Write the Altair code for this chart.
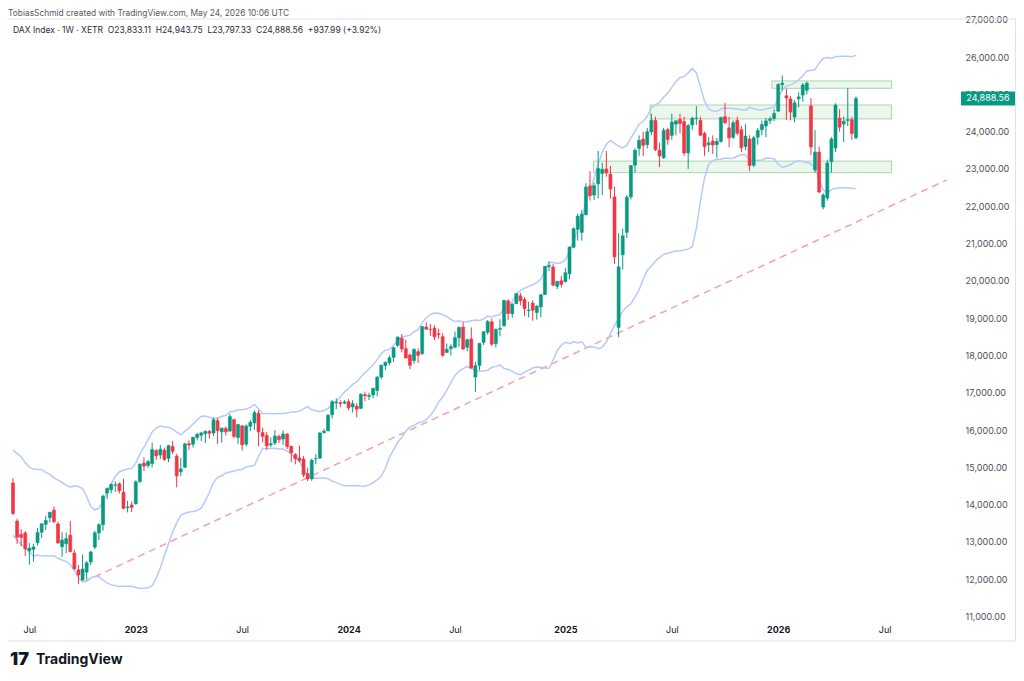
import altair as alt
import pandas as pd
import numpy as np

FONT = "Inter"

# ---- weekly DAX candles (week of Monday), Jun 2022 .. May 2026 ----
opens = [
    # 2022
    14580, 13560, 13200, 13240, 12760, 12800, 12980, 13260, 13470, 13650, 13850, 13480, 12870, 12950, 13180,
    12700, 12250, 11980, 12190, 12460, 12860, 13240, 13460, 14310, 14400, 14520, 14560, 14330, 13920, 13990,
    # 2023
    14020, 14620, 15110, 15050, 15100, 15450, 15330, 15460, 15240, 15560, 15300, 14880, 15000, 15630, 15620,
    15800, 15860, 15900, 15960, 15920, 16250, 15950, 16040, 15970, 16280, 15800, 16110, 15620, 16100, 16190,
    16450, 15930, 15850, 15600, 15650, 15830, 15760, 15890, 15560, 15340, 15250, 15220, 14830, 14690, 15230,
    15250, 15930, 15980, 16410, 16730, 16730, 16720,
    # 2024
    16760, 16620, 16640, 16580, 16950, 16900, 16940, 17060, 17420, 17730, 17800, 17950, 18270, 18460, 18180,
    18010, 17860, 18100, 18050, 18760, 18700, 18730, 18580, 18500, 18080, 18180, 18220, 18470, 18760, 18220,
    18440, 17420, 17730, 18350, 18620, 18900, 18320, 18700, 18800, 19460, 19120, 19390, 19600, 19500, 19200,
    19400, 19150, 19300, 19630, 20380, 20370, 19850, 20000,
    # 2025
    19980, 20190, 20900, 21380, 21300, 21770, 22540, 22300, 22600, 22880, 23000, 22860, 22250, 18750, 20700,
    21300, 22250, 23100, 23550, 23800, 23650, 23990, 24300, 23500, 23300, 24050, 23900, 24200, 24330, 24270,
    23430, 24180, 24350, 24300, 23950, 23650, 23750, 23650, 23740, 24400, 24100, 23850, 24300, 24050, 23600,
    23800, 23100, 23850, 24050, 24150, 24300, 24350,
    # 2026
    24550, 25260, 24960, 24874, 24390, 24880, 24980, 25110, 24690, 22970, 23450, 21980, 22220, 23190, 23560,
    24360, 24200, 24300, 24320, 23833.11,
]
highs = [
    14710, 13620, 13340, 13290, 12970, 12950, 13370, 13500, 13700, 13800, 13950, 13540, 13260, 13250, 13560,
    12790, 12380, 12660, 12490, 12760, 13300, 13500, 14270, 14460, 14560, 14620, 14590, 14690, 14100, 14080,
    14650, 15100, 15270, 15200, 15660, 15480, 15600, 15530, 15600, 15710, 15360, 15250, 15660, 15720, 15810,
    15920, 15950, 15990, 16000, 16330, 16330, 16060, 16100, 16430, 16300, 16150, 16130, 16150, 16270, 16530,
    16530, 16060, 15950, 15800, 16000, 15880, 15990, 15920, 15580, 15380, 15580, 15300, 14990, 15230, 15350,
    15950, 16030, 16420, 16800, 16850, 16790, 16800,
    16830, 16800, 16720, 16980, 17030, 17000, 17130, 17440, 17750, 17840, 18000, 18230, 18510, 18570, 18420,
    18050, 18190, 18190, 18790, 18890, 18840, 18810, 18720, 18590, 18320, 18300, 18640, 18780, 18890, 18450,
    18750, 17830, 18330, 18650, 18950, 18990, 18720, 18970, 19490, 19510, 19400, 19670, 19680, 19560, 19440,
    19470, 19340, 19640, 20400, 20520, 20450, 20000, 20130,
    20350, 20920, 21430, 21800, 21900, 22620, 22940, 22630, 23480, 23160, 23480, 23080, 22520, 21280, 21400,
    22300, 23100, 23550, 23900, 24000, 24100, 24480, 24400, 23700, 24100, 24100, 24480, 24300, 24480, 24400,
    24200, 24400, 24680, 24400, 24000, 23850, 23900, 23830, 24400, 24770, 24400, 24300, 24400, 24150, 24200,
    23900, 23880, 24100, 24300, 24370, 24400, 24600,
    25300, 25510, 25150, 24950, 24850, 25050, 25300, 25340, 24900, 24040, 23600, 22350, 23250, 23850, 24760,
    24600, 24400, 25170, 24400, 24943.75,
]
lows = [
    13720, 12945, 12880, 12620, 12390, 12470, 12900, 13110, 13320, 13520, 13500, 12950, 12600, 12700, 12720,
    12250, 11870, 11950, 11990, 12380, 12810, 13050, 13300, 14150, 14300, 14340, 14300, 13880, 13790, 13800,
    14000, 14580, 14900, 14990, 15000, 15200, 15220, 15170, 15140, 15350, 14460, 14760, 14990, 15470, 15530,
    15720, 15700, 15650, 15770, 15840, 15630, 15660, 15850, 15960, 15780, 15620, 15450, 15560, 15970, 16000,
    15560, 15670, 15470, 15540, 15600, 15650, 15600, 15490, 15140, 15080, 15130, 14740, 14630, 14640, 15080,
    15220, 15900, 15960, 16310, 16560, 16610, 16690,
    16530, 16470, 16340, 16560, 16770, 16800, 16850, 16900, 17370, 17600, 17740, 17820, 18220, 18080, 17920,
    17630, 17780, 17800, 18010, 18680, 18520, 18410, 18450, 17960, 18070, 18000, 18190, 18230, 18150, 18110,
    17650, 17020, 17600, 18280, 18560, 18250, 18210, 18510, 18760, 18950, 19010, 19370, 19340, 19060, 19020,
    18930, 18960, 19020, 19620, 20260, 19860, 19780, 19820,
    19950, 20040, 20870, 21080, 21080, 21760, 22150, 22170, 22210, 22300, 22790, 22200, 20450, 18490, 20300,
    21150, 22180, 22900, 23350, 23340, 23550, 23900, 23480, 23050, 23270, 23650, 23780, 23900, 23950, 23350,
    23000, 24050, 24180, 23890, 23350, 23450, 23400, 23300, 23700, 24200, 23580, 23800, 23900, 23450, 23500,
    22940, 23050, 23650, 23900, 23850, 24200, 24280,
    24520, 25100, 24310, 24300, 24250, 24650, 24800, 25000, 23370, 22900, 22350, 21920, 22150, 22900, 23450,
    24000, 23720, 24150, 23780, 23797.33,
]
closes = [
    13762, 13126, 13118, 12813, 12833, 12864, 13254, 13484, 13574, 13795, 13544, 12971, 13050, 13088, 12741,
    12284, 12114, 12273, 12438, 12731, 13243, 13460, 14224, 14431, 14541, 14529, 14371, 13893, 13940, 13924,
    14610, 15087, 15033, 15150, 15476, 15307, 15482, 15210, 15578, 15428, 14768, 14957, 15629, 15598, 15808,
    15882, 15922, 15961, 15914, 16275, 15983, 16051, 15950, 16358, 15830, 16148, 15603, 16106, 16204, 16469,
    15952, 15832, 15574, 15632, 15840, 15740, 15894, 15557, 15387, 15229, 15186, 14798, 14688, 15189, 15234,
    15919, 15967, 16398, 16759, 16751, 16706, 16752,
    16594, 16705, 16555, 16961, 16918, 16927, 17117, 17419, 17735, 17815, 17937, 18206, 18492, 18175, 17930,
    17737, 18161, 18001, 18773, 18704, 18693, 18498, 18557, 18002, 18163, 18235, 18475, 18748, 18171, 18418,
    17661, 17723, 18322, 18633, 18907, 18302, 18699, 18720, 19474, 19121, 19374, 19657, 19463, 19255, 19215,
    19211, 19323, 19626, 20384, 20406, 19885, 19984, 19906,
    20215, 20903, 21395, 21732, 21787, 22513, 22287, 22551, 23009, 22987, 22892, 22461, 20641, 20374, 21206,
    22242, 23087, 23499, 23767, 23630, 23997, 24304, 23516, 23350, 24033, 23787, 24255, 24290, 24217, 23426,
    24163, 24359, 24363, 23902, 23597, 23698, 23639, 23739, 24378, 24241, 23831, 24240, 23958, 23569, 23877,
    23091, 23836, 24028, 24186, 24288, 24340, 24490,
    25260, 25300, 24900, 24525, 24770, 24930, 25250, 25300, 23590, 23450, 22380, 22300, 23160, 23800, 24710,
    24120, 24280, 24320, 23950.57, 24888.56,
]
# closes of the 19 weeks before the first visible bar (Bollinger warm-up)
warmup_closes = [15318, 15100, 15425, 15042, 14567, 13094, 13628, 14413, 14305, 14446,
                 14284, 14163, 14142, 14098, 13674, 14027, 13982, 14462, 14460]

# horizontal zones (start, end, low, high)
zone_start = ["2025-12-25", "2025-05-31", "2025-02-23"]
zone_end = ["2026-07-18", "2026-07-18", "2026-07-18"]
zone_low = [25160, 24340, 22900]
zone_high = [25360, 24715, 23210]

# dashed trend line
trend_dates = ["2022-10-05", "2026-10-20"]
trend_prices = [11925, 22702]

tick_dates = [(2022, 7, 4), (2023, 1, 2), (2023, 7, 3), (2024, 1, 1), (2024, 7, 1),
              (2025, 1, 6), (2025, 7, 7), (2026, 1, 5), (2026, 7, 6)]
price_ticks = list(range(11000, 27001, 1000))

header1 = "TobiasSchmid created with TradingView.com, May 24, 2026 10:06 UTC"
header2 = ("DAX Index \u00b7 1W \u00b7 XETR\u00a0\u00a0O23,833.11\u00a0\u00a0H24,943.75\u00a0\u00a0"
           "L23,797.33\u00a0\u00a0C24,888.56\u00a0\u00a0+937.99 (+3.92%)")

UP = "#089981"
DOWN = "#f23645"

# ---- frames ----
dates = pd.date_range("2022-06-06", periods=len(closes), freq="7D")
df = pd.DataFrame({
    "date": dates.strftime("%Y-%m-%d"),
    "open": opens, "high": highs, "low": lows, "close": closes,
})
df["dir"] = np.where(df["close"] >= df["open"], "up", "down")

allc = pd.Series(warmup_closes + closes, dtype=float)
mid = allc.rolling(20).mean()
sd = allc.rolling(20).std(ddof=0)
n0 = len(warmup_closes)
bb = pd.DataFrame({
    "date": df["date"],
    "upper": (mid + 2 * sd).iloc[n0:].values,
    "lower": (mid - 2 * sd).iloc[n0:].values,
})

zones = pd.DataFrame({"start": zone_start, "end": zone_end, "lo": zone_low, "hi": zone_high})
trend = pd.DataFrame({"date": trend_dates, "price": trend_prices})
last = pd.DataFrame({"price": [closes[-1]], "label": [f"{closes[-1]:,.2f}"]})

xscale = alt.Scale(type="utc", domain=[alt.DateTime(year=2022, month=6, date=6, utc=True),
                                       alt.DateTime(year=2026, month=10, date=31, utc=True)])
yscale = alt.Scale(domain=[10933, 27019], nice=False, zero=False)
color_scale = alt.Scale(domain=["up", "down"], range=[UP, DOWN])

xaxis = alt.Axis(
    values=[alt.DateTime(year=y, month=m, date=d, utc=True) for (y, m, d) in tick_dates],
    labelExpr="utcFormat(datum.value, '%m') == '01' ? utcFormat(datum.value, '%Y') : utcFormat(datum.value, '%b')",
    labelFontWeight={"condition": {"test": "utcFormat(datum.value, '%m') == '01'", "value": "bold"},
                     "value": "normal"},
    title=None, grid=False, ticks=False, domain=False, labelPadding=6,
    labelFont=FONT, labelFontSize=9, labelColor="#131722", labelFlush=False,
)
yaxis = alt.Axis(
    orient="right", values=price_ticks, labelExpr="format(datum.value, ',.2f')",
    title=None, grid=False, ticks=False, domain=False, labelPadding=7,
    labelFont=FONT, labelFontSize=9, labelColor="#4c4f58", labelFlush=False,
)


def X(field):
    return alt.X(field, scale=xscale, axis=xaxis)


def Y(field):
    return alt.Y(field, scale=yscale, axis=yaxis)


zone_layer = alt.Chart(zones).mark_rect(
    fill="#4caf50", fillOpacity=0.11, stroke="#4caf50", strokeOpacity=0.45, strokeWidth=1
).encode(x=X("start:T"), x2="end:T", y=Y("lo:Q"), y2="hi:Q")

trend_layer = alt.Chart(trend).mark_line(
    color="#f5a0aa", strokeWidth=1.5, strokeDash=[7, 5]
).encode(x=X("date:T"), y=Y("price:Q"))

bb_upper = alt.Chart(bb).mark_line(color="#b7c9fb", strokeWidth=1.5).encode(
    x=X("date:T"), y=Y("upper:Q"))
bb_lower = alt.Chart(bb).mark_line(color="#b7c9fb", strokeWidth=1.5).encode(
    x=X("date:T"), y=Y("lower:Q"))

wicks = alt.Chart(df).mark_rule(strokeWidth=1).encode(
    x=X("date:T"), y=Y("low:Q"), y2="high:Q",
    color=alt.Color("dir:N", scale=color_scale, legend=None),
)

bodies = alt.Chart(df).mark_bar(size=3, strokeWidth=0.6).encode(
    x=X("date:T"), y=Y("open:Q"), y2="close:Q",
    fill=alt.Fill("dir:N", scale=color_scale, legend=None),
    stroke=alt.Stroke("dir:N", scale=color_scale, legend=None),
)

price_box = alt.Chart(last).mark_point(
    shape="M-1,-0.26H1V0.26H-1Z", size=54 * 54, filled=True, color=UP, opacity=1, strokeWidth=0
).encode(x=alt.value(980), y=Y("price:Q"))
price_text = alt.Chart(last).mark_text(
    font=FONT, fontSize=9, color="white", align="center", baseline="middle"
).encode(x=alt.value(980), y=Y("price:Q"), text="label:N")

head1 = alt.Chart(pd.DataFrame({"t": [header1]})).mark_text(
    font=FONT, fontSize=8.4, color="#555860", align="left", baseline="middle"
).encode(x=alt.value(0), y=alt.value(-6), text="t:N")
head2 = alt.Chart(pd.DataFrame({"t": [header2]})).mark_text(
    font=FONT, fontSize=8.5, color="#2a2e39", align="left", baseline="middle"
).encode(x=alt.value(5), y=alt.value(11), text="t:N")

logo_mark = alt.Chart(pd.DataFrame({"t": ["17"]})).mark_text(
    font=FONT, fontSize=18, fontWeight=900, color="#131722", align="left", baseline="middle"
).encode(x=alt.value(2), y=alt.value(641), text="t:N")
logo_text = alt.Chart(pd.DataFrame({"t": ["TradingView"]})).mark_text(
    font=FONT, fontSize=14, fontWeight=700, color="#131722", align="left", baseline="middle"
).encode(x=alt.value(28), y=alt.value(641), text="t:N")

frame_src = pd.DataFrame({"a": [0]})
frame_top = alt.Chart(frame_src).mark_rule(color="#e0e3eb", strokeWidth=1).encode(
    x=alt.value(0), x2=alt.value(1008), y=alt.value(0))
frame_bottom = alt.Chart(frame_src).mark_rule(color="#e0e3eb", strokeWidth=1).encode(
    x=alt.value(0), x2=alt.value(1008), y=alt.value(622))
frame_right = alt.Chart(frame_src).mark_rule(color="#e0e3eb", strokeWidth=1).encode(
    x=alt.value(1007.5), y=alt.value(0), y2=alt.value(622))

chart = alt.layer(
    zone_layer, trend_layer, bb_upper, bb_lower, wicks, bodies,
    price_box, price_text, head1, head2, logo_mark, logo_text,
    frame_top, frame_bottom, frame_right,
).properties(
    width=950, height=600,
    padding={"left": 0, "top": 11, "right": 58, "bottom": 50},
    autosize=alt.AutoSizeParams(type="none"),
    background="white",
).configure_view(stroke=None)

chart.save("out.html", embed_options={"renderer": "svg", "actions": False})
